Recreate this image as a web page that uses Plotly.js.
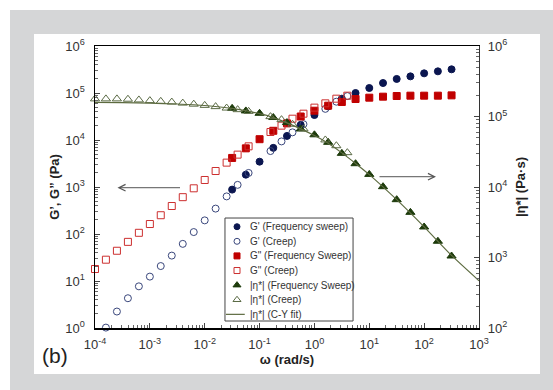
<!DOCTYPE html>
<html>
<head>
<meta charset="utf-8">
<script src="https://cdn.plot.ly/plotly-3.0.1.min.js"></script>
<style>
  html, body { margin: 0; padding: 0; background: #ffffff; width: 553px; height: 390px; overflow: hidden; }
  #frame { position: absolute; left: 10px; top: 10px; width: 543px; height: 380px; background: #d5d6d7; }
  #chart { position: absolute; left: 34px; top: 34px; width: 506px; height: 340px; background: #ffffff; }
</style>
</head>
<body>
<div id="frame"></div>
<div id="chart"></div>
<script>
// ---------- data ----------
// frequency sweep (rad/s)
const freqOmega = [0.0316, 0.0562, 0.1, 0.178, 0.316, 0.562, 1, 1.78, 3.16, 5.62, 10, 17.8, 31.6, 56.2, 100, 178, 316];
const gPrimeFreq = [880, 1830, 3460, 6800, 12200, 21000, 34000, 52000, 75700, 100000, 127700, 163000, 199000, 226000, 262000, 289000, 319000];
const gDoubleFreq = [4150, 6650, 10400, 15700, 22600, 31600, 42000, 53700, 64400, 74500, 79500, 83500, 86300, 87700, 87700, 87700, 89100];
const etaFreq = [130600, 120000, 111000, 96700, 82000, 66500, 55000, 43000, 30000, 21400, 15100, 10100, 6610, 4370, 2710, 1700, 1050];

// creep-derived data (rad/s); null = hidden under another marker
const creepOmega = [1e-4, 1.58e-4, 2.51e-4, 3.98e-4, 6.31e-4, 1e-3, 1.58e-3, 2.51e-3, 3.98e-3, 6.31e-3, 1e-2, 1.58e-2, 2.51e-2, 3.98e-2, 6.31e-2, 0.1, 0.158, 0.251, 0.398, 0.631, 1, 1.58, 2.51, 3.98];
const gPrimeCreep = [null, 1.02, 2.24, 4.3, 7.7, 12.4, 20.8, 34.7, 61.7, 110, 195, 347, 631, 1110, 1990, null, 5820, 9330, 14550, 21700, null, 46000, 65300, 86100];
const gDoubleCreep = [18, 28.4, 44, 68, 106, 163, 251, 394, 608, 938, 1410, 2190, 3300, 4880, 7330, null, 14800, 20200, 28400, 36300, 48800, 60300, 75700, 87700];
const etaCreep = [177800, 177800, 177800, 175800, 171800, 167900, 164100, 160300, 154900, 149600, 143900, 138000, 131800, 125000, 118300, null, 99500, 90200, 77600, 66800, null, 46500, 38500, 30700];

// Cross-Yasuda fit curve
const fitOmega = [1e-4, 3.16e-4, 1e-3, 3.16e-3, 1e-2, 3.16e-2, 0.1, 0.178, 0.316, 0.562, 1, 1.78, 3.16, 5.62, 10, 31.6, 100, 316, 1000];
const fitEta = [158500, 157800, 154900, 150300, 143200, 130300, 109600, 96600, 81300, 66800, 53700, 41700, 30500, 21600, 15000, 6610, 2720, 1070, 468];

// labels
const seriesNames = ["G' (Frequency sweep)", "G' (Creep)", "G\" (Frequency Sweep)", "G\" (Creep)", "|η*| (Frequency Sweep)", "|η*| (Creep)", "|η*| (C-Y fit)"];
const xTickVals = [1e-4, 1e-3, 1e-2, 1e-1, 1, 10, 100, 1000];
const xTickText = ["10<sup>-4</sup>", "10<sup>-3</sup>", "10<sup>-2</sup>", "10<sup>-1</sup>", "10<sup>0</sup>", "10<sup>1</sup>", "10<sup>2</sup>", "10<sup>3</sup>"];
const yTickVals = [1, 10, 100, 1e3, 1e4, 1e5, 1e6];
const yTickText = ["10<sup>0</sup>", "10<sup>1</sup>", "10<sup>2</sup>", "10<sup>3</sup>", "10<sup>4</sup>", "10<sup>5</sup>", "10<sup>6</sup>"];
const y2TickVals = [100, 1e3, 1e4, 1e5, 1e6];
const y2TickText = ["10<sup>2</sup>", "10<sup>3</sup>", "10<sup>4</sup>", "10<sup>5</sup>", "10<sup>6</sup>"];
const xTitle = "ω (rad/s)";
const yTitle = "G’, G” (Pa)";
const y2Title = "|η*| (Pa·s)";
const panelLabel = "(b)";

// ---------- styles ----------
const FONT = "Liberation Sans, Arial, sans-serif";
const styles = [
  {symbol: 'circle', color: '#0b1650', size: 7},
  {symbol: 'circle-open', color: '#3a477c', size: 7},
  {symbol: 'square', color: '#c00000', size: 7},
  {symbol: 'square-open', color: '#cc2f2f', size: 7},
  {symbol: 'triangle-up', color: '#1d3b0b', size: 8},
  {symbol: 'triangle-up-open', color: '#5a6a44', size: 8}
];
const fitColor = '#5d6b40';

function mk(i, x, y, yaxis) {
  const s = styles[i];
  return {
    type: 'scatter', mode: 'markers', name: seriesNames[i], x: x, y: y, yaxis: yaxis,
    cliponaxis: false, showlegend: false,
    marker: {symbol: s.symbol, color: s.color, size: s.size, line: {color: s.color, width: 1}}
  };
}

const traces = [
  mk(0, freqOmega, gPrimeFreq, 'y'),
  mk(1, creepOmega, gPrimeCreep, 'y'),
  mk(2, freqOmega, gDoubleFreq, 'y'),
  mk(3, creepOmega, gDoubleCreep, 'y'),
  mk(4, freqOmega, etaFreq, 'y2'),
  mk(5, creepOmega, etaCreep, 'y2'),
  {type: 'scatter', mode: 'lines', name: seriesNames[6], x: fitOmega, y: fitEta, yaxis: 'y2',
   cliponaxis: false, showlegend: false, line: {color: fitColor, width: 1.2, shape: 'spline', smoothing: 0.6}}
];

// ---------- hand-drawn legend (compact, like the original) ----------
const legX0 = 0.3385, legX1 = 0.672, legYTop = 0.39, legYBot = 0.0248;
const legRowY0 = 0.3592, legRowStep = 0.0518;
const legSymX = 0.3698, legTextX = 0.398;
const legRows = seriesNames.map((_, i) => legRowY0 - i * legRowStep);
for (let i = 0; i < 6; i++) {
  const s = styles[i];
  traces.push({type: 'scatter', mode: 'markers', x: [legSymX], y: [legRows[i]], xaxis: 'x3', yaxis: 'y3',
    showlegend: false, hoverinfo: 'skip', cliponaxis: false,
    marker: {symbol: s.symbol, color: s.color, size: s.size - 1, line: {color: s.color, width: 1}}});
}
traces.push({type: 'scatter', mode: 'lines', x: [0.341, 0.39], y: [legRows[6], legRows[6]], xaxis: 'x3', yaxis: 'y3',
  showlegend: false, hoverinfo: 'skip', cliponaxis: false, line: {color: fitColor, width: 1.2}});

const annotations = seriesNames.map((t, i) => ({
  xref: 'paper', yref: 'paper', x: legTextX, y: legRows[i], xanchor: 'left', yanchor: 'middle',
  text: t, showarrow: false, font: {family: FONT, size: 10, color: '#333'}
}));
annotations.push({xref: 'paper', yref: 'paper', x: 0.0586, y: 0.4975, ax: 64, ay: 0, text: '',
  showarrow: true, arrowhead: 5, arrowsize: 1.3, arrowwidth: 1, arrowcolor: '#555'});
annotations.push({xref: 'paper', yref: 'paper', x: 0.888, y: 0.5365, ax: -58, ay: 0, text: '',
  showarrow: true, arrowhead: 5, arrowsize: 1.3, arrowwidth: 1, arrowcolor: '#555'});
annotations.push({xref: 'paper', yref: 'paper', x: -0.104, y: -0.096, xanchor: 'center', yanchor: 'middle',
  text: panelLabel, showarrow: false, font: {family: FONT, size: 21, color: '#222'}});

function minorVals(lo, hi) {
  const v = [];
  for (let p = lo; p < hi; p++) for (let m = 2; m <= 9; m++) v.push(m * Math.pow(10, p));
  return v;
}

const tickFont = {family: FONT, size: 13, color: '#333'};
const titleFont = {family: FONT, size: 13, color: '#222', weight: 'bold'};

const layout = {
  width: 506, height: 340,
  margin: {l: 61, r: 61, t: 12, b: 46, pad: 0},
  paper_bgcolor: '#ffffff', plot_bgcolor: '#ffffff',
  showlegend: false,
  xaxis: {
    type: 'log', range: [-4, 3], showgrid: false, zeroline: false,
    showline: true, linecolor: '#000', linewidth: 1.5, mirror: true,
    tickmode: 'array', tickvals: xTickVals, ticktext: xTickText,
    ticks: 'inside', ticklen: 5, tickcolor: '#444', tickfont: tickFont, ticklabelstandoff: 4,
    minor: {tickmode: 'array', tickvals: minorVals(-4, 3), ticks: 'inside', ticklen: 3, tickcolor: '#666'},
    title: {text: xTitle, font: titleFont, standoff: 4}, automargin: 'title'
  },
  yaxis: {
    type: 'log', range: [0, 6], showgrid: false, zeroline: false,
    showline: true, linecolor: '#000', linewidth: 1.5,
    tickmode: 'array', tickvals: yTickVals, ticktext: yTickText,
    ticks: 'inside', ticklen: 5, tickcolor: '#444', tickfont: tickFont, ticklabelstandoff: 6,
    minor: {tickmode: 'array', tickvals: minorVals(0, 6), ticks: 'inside', ticklen: 3, tickcolor: '#666'},
    title: {text: yTitle, font: titleFont, standoff: 3}, automargin: 'title'
  },
  yaxis2: {
    type: 'log', range: [2, 6], overlaying: 'y', side: 'right', showgrid: false, zeroline: false,
    showline: true, linecolor: '#333', linewidth: 1.2,
    tickmode: 'array', tickvals: y2TickVals, ticktext: y2TickText,
    ticks: 'inside', ticklen: 5, tickcolor: '#444', tickfont: tickFont, ticklabelstandoff: 5,
    minor: {tickmode: 'array', tickvals: minorVals(2, 6), ticks: 'inside', ticklen: 3, tickcolor: '#666'},
    title: {text: y2Title, font: titleFont, standoff: 9}, automargin: 'title'
  },
  xaxis3: {overlaying: 'x', range: [0, 1], visible: false, fixedrange: true},
  yaxis3: {overlaying: 'y', range: [0, 1], visible: false, fixedrange: true},
  shapes: [{type: 'rect', xref: 'paper', yref: 'paper', x0: legX0, x1: legX1, y0: legYBot, y1: legYTop,
    line: {color: '#444', width: 1}, fillcolor: '#ffffff', layer: 'below'}],
  annotations: annotations
};

Plotly.newPlot('chart', traces, layout, {displayModeBar: false, staticPlot: true});
</script>
</body>
</html>
